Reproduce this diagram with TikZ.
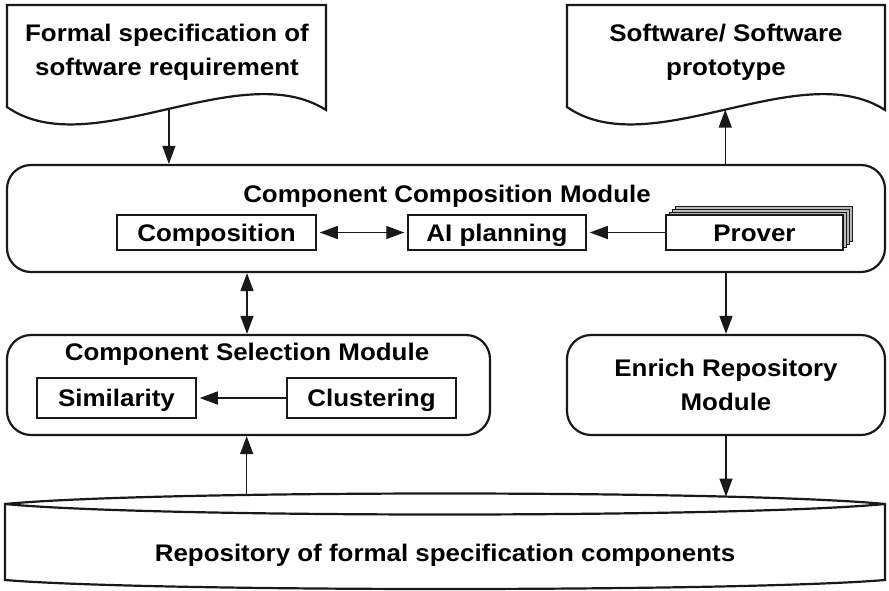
\documentclass[tikz,border=0pt]{standalone}
\usepackage{fontspec}
\setmainfont[FakeStretch=1.08]{Liberation Sans}
\usetikzlibrary{arrows.meta,calc}

\begin{document}
\begin{tikzpicture}[x=1pt,y=-1pt,
  txt/.style={font=\bfseries\fontsize{24}{34}\selectfont, align=center, text=black},
  oneline/.style={txt, text height=18pt, text depth=1pt, inner sep=0pt},
  outline/.style={draw=black!90, line width=2.2pt},
  module/.style={outline, rounded corners=24pt, inner sep=0pt, fill=white},
  box/.style={draw=black!90, line width=1.5pt, fill=white, minimum height=35pt, oneline},
  layer/.style={draw=black!90, line width=0.8pt, fill=gray!55, inner sep=0pt, minimum height=35pt},
  tip/.tip={Triangle[length=18pt,width=13pt]},
  flow/.style={draw=black!90, line width=1.4pt, -tip},
  flow2/.style={draw=black!90, line width=1.4pt, tip-tip}
]
\useasboundingbox (0,0) rectangle (889,590);

% input and output documents
\draw[outline, fill=white] (7,107) -- (7,5) -- (326,5) -- (326,110)
  .. controls (240,55) and (90,165) .. coordinate[pos=0.49] (d1b) (7,107) -- cycle;
\node[txt] (doc1) at (167,52) {Formal specification of\\software requirement};

\draw[outline, fill=white] (567,107) -- (567,5) -- (885,5) -- (885,110)
  .. controls (800,55) and (650,165) .. coordinate[pos=0.5] (d2b) (567,107) -- cycle;
\node[txt] (doc2) at (726,52) {Software/ Software\\prototype};

% composition module
\node[module, minimum width=878pt, minimum height=107pt] (ccm) at (446,218.5) {};
\node[txt, anchor=base] (ccmt) at (447,202) {Component Composition Module};
\node[box, minimum width=199pt] (comp) at (216.5,232.5) {Composition};
\node[box, minimum width=178pt] (ai) at (497,232.5) {AI planning};
\foreach \d in {9,6,3}
  \node[layer, minimum width=177pt] (pl\d) at (754.5+\d,232.5-\d) {};
\node[box, minimum width=177pt] (prover) at (754.5,232.5) {Prover};

% selection module
\node[module, minimum width=483pt, minimum height=100pt] (csm) at (248.5,385) {};
\node[txt, anchor=base] (csmt) at (247,360) {Component Selection Module};
\node[box, minimum width=159pt, minimum height=40pt] (sim) at (116.5,398) {Similarity};
\node[box, minimum width=169pt, minimum height=40pt] (clu) at (371.5,398) {Clustering};

% enrich module
\node[module, minimum width=318pt, minimum height=100pt, txt] (erm) at (726,385)
  {Enrich Repository\\Module};

% repository
\draw[outline, fill=white] (5,504) .. controls (150,490) and (740,490) .. (885,504)
  -- (885,580) .. controls (740,592) and (150,592) .. (5,580) -- cycle;
\draw[outline] (5,504) .. controls (150,518) and (740,518) .. (885,504);
\path (5,504) .. controls (150,490) and (740,490) .. coordinate[pos=0.315] (rl)
  coordinate[pos=0.77] (rr) (885,504);
\node[oneline] (repo) at (445,553) {Repository of formal specification components};

% connectors
\draw[flow] (d1b) -- (d1b |- ccm.north);
\draw[flow] (d2b |- ccm.north) -- (d2b);
\draw[flow2, shorten <=3pt, shorten >=3pt] (comp.east) -- (ai.west);
\draw[flow, shorten >=3pt] (prover.west) -- (ai.east);
\draw[flow, shorten >=3pt] (clu.west) -- (sim.east);
\draw[flow2] (csm.north -| 247,0) -- (ccm.south -| 247,0);
\draw[flow] (ccm.south -| erm.north) -- (erm.north);
\draw[flow] (erm.south) -- (erm.south |- rr);
\draw[flow] (rl) -- (csm.south -| rl);
\end{tikzpicture}
\end{document}
